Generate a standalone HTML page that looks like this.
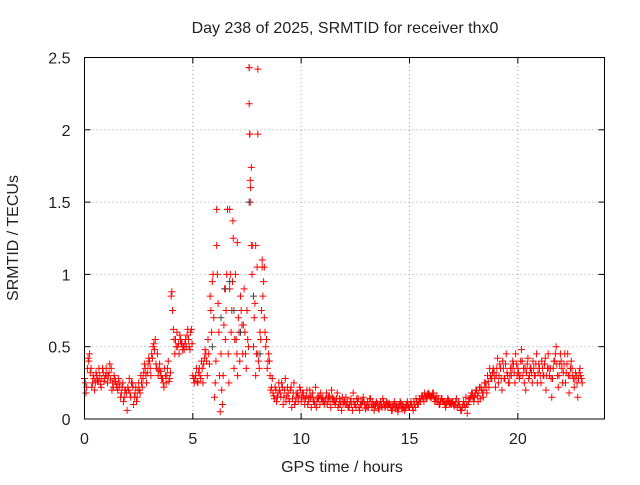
<!DOCTYPE html>
<html><head><meta charset="utf-8"><style>
body{margin:0;background:#fff;}
svg text{font-family:"Liberation Sans",sans-serif;font-size:16px;fill:#222;}
</style></head><body>
<svg id="chart" width="640" height="480">
<text x="345" y="33" text-anchor="middle">Day 238 of 2025, SRMTID for receiver thx0</text>
<text x="342" y="472" text-anchor="middle">GPS time / hours</text>
<text transform="translate(18,238) rotate(-90)" text-anchor="middle">SRMTID / TECUs</text>
<g id="grid"></g><g id="ticks"></g><g id="pts"></g>
<rect x="84.5" y="57.5" width="520" height="361.5" fill="none" stroke="#000"/>
</svg>
<script>
const xTicks=[0,5,10,15,20];
const yTicks=[0,0.5,1,1.5,2,2.5];
const yTickLabels=["0","0.5","1","1.5","2","2.5"];
const step=0.1;
const seriesA=[.28,.22,.40,.35,.30,.25,.27,.30,.28,.26,
.35,.30,.27,.25,.28,.24,.22,.18,.12,.20,
.22,.18,.25,.15,.12,.25,.30,.28,.35,.32,
.40,.45,.52,.38,.30,.33,.28,.35,.30,.26,
.85,.62,.55,.50,.58,.52,.48,.50,.55,.60,
.30,.28,.26,.35,.40,.38,.45,.55,.85,.95,
.15,1.2,.60,.45,.30,.55,1.45,.90,.75,.35,
.55,.70,.85,.45,.60,.75,2.43,1.74,.50,.30,
.45,.60,1.05,.70,.55,.45,.20,.18,.22,.15,
.20,.25,.15,.12,.18,.20,.14,.10,.15,.16,
.12,.18,.14,.10,.20,.15,.12,.08,.14,.18,
.15,.12,.10,.16,.20,.14,.12,.08,.10,.15,
.12,.10,.08,.14,.18,.10,.12,.06,.10,.12,
.10,.08,.14,.12,.09,.11,.07,.10,.12,.09,
.08,.10,.06,.12,.09,.08,.11,.10,.07,.12,
.08,.10,.12,.14,.10,.12,.16,.18,.15,.17,
.15,.18,.14,.12,.10,.14,.12,.10,.13,.11,
.12,.10,.08,.10,.06,.12,.15,.10,.14,.18,
.15,.20,.18,.22,.15,.25,.30,.35,.28,.32,
.30,.25,.35,.40,.28,.32,.25,.30,.38,.45,
.35,.30,.40,.25,.32,.28,.35,.40,.30,.25,
.35,.40,.30,.20,.45,.35,.28,.40,.38,.30,
.40,.32,.25,.45,.30,.35,.22,.30,.28,.30];
const seriesB=[.18,.42,.32,.25,.20,.30,.35,.22,.32,.30,
.25,.38,.20,.30,.22,.28,.15,.25,.20,.06,
.28,.25,.10,.22,.20,.18,.22,.38,.25,.42,
.30,.50,.55,.45,.38,.28,.22,.25,.40,.32,
.75,.45,.60,.45,.52,.50,.55,.62,.48,.52,
.25,.35,.32,.28,.25,.48,.30,.38,.60,.70,
.40,.80,.05,.10,.90,1.0,.25,.60,1.25,1.0,
.30,.40,.65,.90,.35,.50,1.60,1.20,.80,1.05,
.35,.75,.95,.50,.40,.30,.28,.14,.12,.25,
.15,.10,.28,.22,.12,.08,.25,.18,.12,.20,
.18,.10,.20,.15,.08,.12,.22,.15,.10,.12,
.10,.18,.15,.08,.12,.10,.18,.14,.06,.12,
.15,.08,.12,.06,.10,.14,.08,.12,.15,.07,
.12,.14,.08,.06,.12,.07,.12,.14,.08,.11,
.11,.06,.10,.08,.05,.12,.07,.06,.10,.08,
.12,.06,.08,.10,.14,.16,.12,.14,.18,.15,
.18,.12,.16,.10,.14,.12,.08,.14,.10,.12,
.09,.14,.12,.06,.10,.08,.04,.14,.18,.12,
.20,.12,.14,.18,.25,.18,.22,.28,.35,.22,
.42,.38,.20,.28,.45,.25,.35,.40,.25,.30,
.28,.48,.35,.20,.42,.35,.25,.30,.45,.38,
.25,.30,.42,.35,.30,.15,.40,.50,.22,.45,
.25,.45,.38,.18,.40,.28,.32,.15,.35,.25];
const seriesC=[.25,.35,.45,.22,.28,.32,.26,.24,.35,.28,
.30,.32,.35,.22,.26,.20,.25,.22,.15,.18,
.20,.15,.22,.18,.15,.20,.25,.32,.30,.38,
.35,.42,.48,.35,.34,.30,.25,.30,.35,.28,
.88,.55,.50,.52,.55,.48,.52,.58,.50,.62,
.28,.30,.25,.30,.35,.42,.40,.45,.75,1.0,
.25,1.0,.30,.20,.65,.75,.45,1.0,.95,.55,
.45,.60,.75,.65,.45,.55,1.97,1.0,.70,.45,
.40,.55,.85,.60,.35,.40,.22,.16,.20,.18,
.18,.22,.20,.16,.14,.22,.18,.12,.18,.22,
.15,.14,.16,.12,.15,.18,.10,.12,.16,.14,
.12,.14,.12,.12,.15,.12,.14,.10,.12,.10,
.10,.12,.10,.10,.12,.08,.14,.10,.12,.10,
.08,.10,.10,.10,.10,.09,.10,.08,.10,.12,
.10,.08,.09,.10,.07,.10,.09,.08,.09,.10,
.10,.08,.10,.12,.12,.14,.14,.16,.17,.16,
.16,.15,.12,.14,.12,.12,.10,.12,.11,.10,
.10,.12,.10,.08,.08,.10,.10,.12,.16,.15,
.18,.16,.22,.20,.20,.22,.26,.30,.32,.28,
.35,.30,.28,.35,.38,.30,.30,.35,.32,.38,
.32,.40,.30,.35,.38,.30,.32,.35,.38,.32,
.30,.35,.38,.30,.35,.28,.35,.45,.30,.38,
.35,.38,.32,.30,.35,.30,.28,.25,.32,.28];
const extraTimes=[7.6,7.6,7.62,7.65,7.65,7.7,8.0,8.0,6.7,6.85,6.1,7.9,8.2,8.3,6.6,7.05];
const extraValues=[2.43,2.18,1.97,1.65,1.5,1.2,2.42,1.97,1.45,1.37,1.45,1.2,1.1,1.05,1.45,1.22];
const grayTimes=[6.5,6.7,6.9,7.2,7.6,7.8,8.1,6.3,5.9];
const grayValues=[0.9,0.95,0.75,0.6,1.5,0.85,0.45,0.7,0.5];

const ns="http://www.w3.org/2000/svg";
const X0=84.5,X1=604.5,Y0=419,Y1=57.5;
const xs=v=>X0+v/24*(X1-X0);
const ys=v=>Y0-v/2.5*(Y0-Y1);
const grid=document.getElementById('grid'),ticks=document.getElementById('ticks'),pts=document.getElementById('pts');
function mk(tag,attrs,parent){const e=document.createElementNS(ns,tag);for(const k in attrs)e.setAttribute(k,attrs[k]);parent.appendChild(e);return e;}
xTicks.forEach(t=>{
  const x=xs(t);
  if(t>0){const g=mk('line',{x1:x,x2:x,y1:Y0,y2:Y1,stroke:'#a0a0a0','stroke-dasharray':'1,3'},grid);
  
  }
  mk('line',{x1:x,x2:x,y1:Y0,y2:Y0-6,stroke:'#000'},ticks);
  mk('line',{x1:x,x2:x,y1:Y1,y2:Y1+6,stroke:'#000'},ticks);
  const l=mk('text',{x:x,y:Y0+25,'text-anchor':'middle'},ticks);l.textContent=t;
  
  
});
yTicks.forEach((t,i)=>{
  const y=ys(t);
  if(t>0&&t<2.5){const g=mk('line',{x1:X0,x2:X1,y1:y,y2:y,stroke:'#a0a0a0','stroke-dasharray':'1,3'},grid);
  
  }
  mk('line',{x1:X0,x2:X0+6,y1:y,y2:y,stroke:'#000'},ticks);
  mk('line',{x1:X1,x2:X1-6,y1:y,y2:y,stroke:'#000'},ticks);
  const l=mk('text',{x:X0-14,y:y+6,'text-anchor':'end'},ticks);l.textContent=yTickLabels[i];
  
  
});
function plus(t,v,color){
  const x=xs(t),y=ys(v);
  const p=mk('path',{d:`M${x-3.5},${y}h7M${x},${y-3.5}v7`,stroke:color,'stroke-width':1,fill:'none'},pts);
  
  
}
seriesA.forEach((v,i)=>plus(i*step,v,'#f00'));
seriesC.forEach((v,i)=>plus(i*step+0.033,v,'#f00'));
seriesB.forEach((v,i)=>plus(i*step+0.066,v,'#f00'));
extraTimes.forEach((t,i)=>plus(t,extraValues[i],'#f00'));
grayTimes.forEach((t,i)=>plus(t,grayValues[i],'#444'));
</script>
</body></html>
